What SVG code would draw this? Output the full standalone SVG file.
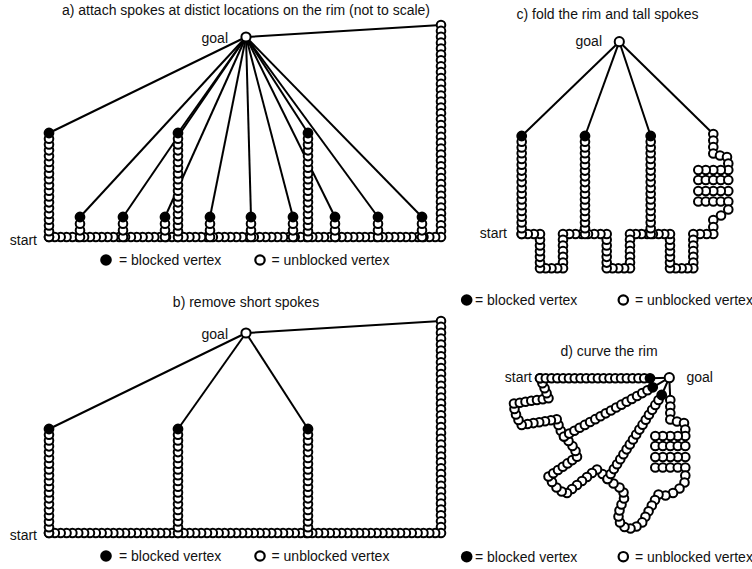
<svg xmlns="http://www.w3.org/2000/svg" width="752" height="569" viewBox="0 0 752 569">
  <style>
    text { font-family: "Liberation Sans", Arial, Helvetica, sans-serif; font-size: 14px; fill: #111; }
    .mid { text-anchor: middle; }
    .end { text-anchor: end; }
    .ch { fill: none; stroke: none; marker-start: url(#v); marker-mid: url(#v); marker-end: url(#v); }
    .sp { fill: none; stroke: none; marker-start: url(#v); marker-mid: url(#v); marker-end: url(#k); }
    .ln { stroke: #000; stroke-width: 2; fill: none; }
    .node { fill: #fff; stroke: #000; stroke-width: 2; }
    .lk { fill: #000; }
    .lw { fill: #fff; stroke: #000; stroke-width: 2.2; }
  </style>
  <defs>
    <!-- unblocked vertex -->
    <marker id="v" markerUnits="userSpaceOnUse" markerWidth="12" markerHeight="12" viewBox="-6 -6 12 12" refX="0" refY="0" overflow="visible">
      <circle r="4.3" fill="#fff" stroke="#000" stroke-width="2"/>
    </marker>
    <!-- blocked vertex -->
    <marker id="k" markerUnits="userSpaceOnUse" markerWidth="12" markerHeight="12" viewBox="-6 -6 12 12" refX="0" refY="0" overflow="visible">
      <circle r="4.6" fill="#000" stroke="#000" stroke-width="1.6"/>
    </marker>
    <!-- straight rim with the tall right spoke, drawn from the top of the spoke down to start -->
    <path id="rimAB" class="ch" d="M441 25v5.889v5.889v5.889v5.889v5.889v5.889v5.889v5.889v5.889v5.889v5.889v5.889v5.889v5.889v5.889v5.889v5.889v5.889v5.889v5.889v5.889v5.889v5.889v5.889v5.889v5.889v5.889v5.889v5.889v5.889v5.889v5.889v5.889v5.889v5.889v5.889h-5.851h-5.851h-5.851h-5.851h-5.851h-5.851h-5.851h-5.851h-5.851h-5.851h-5.851h-5.851h-5.851h-5.851h-5.851h-5.851h-5.851h-5.851h-5.851h-5.851h-5.851h-5.851h-5.851h-5.851h-5.851h-5.851h-5.851h-5.851h-5.851h-5.851h-5.851h-5.851h-5.851h-5.851h-5.851h-5.851h-5.851h-5.851h-5.851h-5.851h-5.851h-5.851h-5.851h-5.851h-5.851h-5.851h-5.851h-5.851h-5.851h-5.851h-5.851h-5.851h-5.851h-5.851h-5.851h-5.851h-5.851h-5.851h-5.851h-5.851h-5.851h-5.851h-5.851h-5.851h-5.851h-5.851h-5.851"/>
    <path id="tall" class="sp" d="M0 0v-5.778v-5.778v-5.778v-5.778v-5.778v-5.778v-5.778v-5.778v-5.778v-5.778v-5.778v-5.778v-5.778v-5.778v-5.778v-5.778v-5.778v-5.778"/>
    <path id="short" class="sp" d="M0 0v-6.667v-6.667v-6.667"/>
    <path id="colC" class="sp" d="M0 0v-5.765v-5.765v-5.765v-5.765v-5.765v-5.765v-5.765v-5.765v-5.765v-5.765v-5.765v-5.765v-5.765v-5.765v-5.765v-5.765v-5.765"/>
    <!-- folded unblocked spoke, from its top downwards -->
    <path id="fold" class="ch" d="M0 0v6.5v6.5v6.5l6.7 2l7 1.5l1.3 6.5v6.5h-7.5h-7.5h-7.5h-7.5v10h7.5h7.5h7.5h7.5v11h-7.5h-7.5h-7.5h-7.5v10.5h7.5h7.5h7.5h7.5v8"/>
  </defs>

  <!-- a) -->
  <g id="panel-a">
    <text class="mid" x="246" y="15">a) attach spokes at distict locations on the rim (not to scale)</text>
    <g id="a-connectors" class="ln">
      <line x1="246" y1="37" x2="441" y2="25"/>
      <line x1="246" y1="37" x2="49" y2="133"/>
      <line x1="246" y1="37" x2="80" y2="217"/>
      <line x1="246" y1="37" x2="123" y2="217"/>
      <line x1="246" y1="37" x2="165" y2="217"/>
      <line x1="246" y1="37" x2="178" y2="133"/>
      <line x1="246" y1="37" x2="210" y2="217"/>
      <line x1="246" y1="37" x2="251" y2="217"/>
      <line x1="246" y1="37" x2="293" y2="217"/>
      <line x1="246" y1="37" x2="308" y2="133"/>
      <line x1="246" y1="37" x2="335" y2="217"/>
      <line x1="246" y1="37" x2="378" y2="217"/>
      <line x1="246" y1="37" x2="422" y2="217"/>
    </g>
    <g id="a-rim"><use href="#rimAB"/></g>
    <g id="a-spokes">
      <use href="#tall" x="49" y="237"/>
      <use href="#short" x="80" y="237"/>
      <use href="#short" x="123" y="237"/>
      <use href="#short" x="165" y="237"/>
      <use href="#tall" x="178" y="237"/>
      <use href="#short" x="210" y="237"/>
      <use href="#short" x="251" y="237"/>
      <use href="#short" x="293" y="237"/>
      <use href="#tall" x="308" y="237"/>
      <use href="#short" x="335" y="237"/>
      <use href="#short" x="378" y="237"/>
      <use href="#short" x="422" y="237"/>
    </g>
    <g id="a-goal"><circle class="node" cx="246" cy="37" r="4.6"/><text class="end" x="228" y="43">goal</text></g>
    <g id="a-start"><text class="end" x="37" y="244.5">start</text></g>
    <g id="a-legend">
      <circle class="lk" cx="106" cy="260" r="5.8"/><text x="119" y="265">= blocked vertex</text>
      <circle class="lw" cx="260" cy="260" r="4.7"/><text x="271.5" y="265">= unblocked vertex</text>
    </g>
  </g>

  <!-- b) -->
  <g id="panel-b">
    <text class="mid" x="246" y="307">b) remove short spokes</text>
    <g id="b-connectors" class="ln">
      <line x1="246" y1="333" x2="441" y2="321"/>
      <line x1="246" y1="333" x2="49" y2="429"/>
      <line x1="246" y1="333" x2="178" y2="429"/>
      <line x1="246" y1="333" x2="308" y2="429"/>
    </g>
    <g id="b-rim"><use href="#rimAB" y="296"/></g>
    <g id="b-spokes">
      <use href="#tall" x="49" y="533"/>
      <use href="#tall" x="178" y="533"/>
      <use href="#tall" x="308" y="533"/>
    </g>
    <g id="b-goal"><circle class="node" cx="246" cy="333" r="4.6"/><text class="end" x="228" y="339">goal</text></g>
    <g id="b-start"><text class="end" x="37" y="539.5">start</text></g>
    <g id="b-legend">
      <circle class="lk" cx="106" cy="556" r="5.8"/><text x="119" y="561">= blocked vertex</text>
      <circle class="lw" cx="260" cy="556" r="4.7"/><text x="271.5" y="561">= unblocked vertex</text>
    </g>
  </g>

  <!-- c) -->
  <g id="panel-c">
    <text class="mid" x="607.5" y="19">c) fold the rim and tall spokes</text>
    <g id="c-connectors" class="ln">
      <line x1="619.3" y1="41.7" x2="521.7" y2="136"/>
      <line x1="619.3" y1="41.7" x2="585" y2="136"/>
      <line x1="619.3" y1="41.7" x2="650.7" y2="136"/>
      <line x1="619.3" y1="41.7" x2="713.3" y2="134"/>
    </g>
    <g id="c-fold"><use href="#fold" x="713.3" y="134"/></g>
    <g id="c-rim">
      <path class="ch" d="M721 215.5L713.3 220v7v7h-6.667h-6.667h-6.667v5.717v5.717v5.717v5.717v5.717v5.717h-5.825h-5.825h-5.825h-5.825v-5.717v-5.717v-5.717v-5.717v-5.717v-5.717h-5.714h-5.714h-5.714h-5.714h-5.714h-5.714h-5.714v5.717v5.717v5.717v5.717v5.717v5.717h-5.825h-5.825h-5.825h-5.825v-5.717v-5.717v-5.717v-5.717v-5.717v-5.717h-6.243h-6.243h-6.243h-6.243h-6.243h-6.243h-6.243v5.717v5.717v5.717v5.717v5.717v5.717h-5.75h-5.75h-5.75h-5.75v-5.717v-5.717v-5.717v-5.717v-5.717v-5.717h-6.1h-6.1h-6.1"/>
    </g>
    <g id="c-spokes">
      <use href="#colC" x="521.7" y="234"/>
      <use href="#colC" x="585" y="234"/>
      <use href="#colC" x="650.7" y="234"/>
    </g>
    <g id="c-goal"><circle class="node" cx="619.3" cy="41.7" r="4.6"/><text class="end" x="602" y="46">goal</text></g>
    <g id="c-start"><text class="end" x="507" y="238">start</text></g>
    <g id="c-legend">
      <circle class="lk" cx="466.7" cy="300" r="5.8"/><text x="475" y="305">= blocked vertex</text>
      <circle class="lw" cx="623.3" cy="300" r="4.7"/><text x="635" y="305">= unblocked vertex</text>
    </g>
  </g>

  <!-- d) -->
  <g id="panel-d">
    <text class="mid" x="609" y="356">d) curve the rim</text>
    <g id="d-connectors" class="ln">
      <line x1="669.3" y1="377.7" x2="650" y2="378.3"/>
      <line x1="669.3" y1="377.7" x2="652.7" y2="387.3"/>
      <line x1="669.3" y1="377.7" x2="661.7" y2="395"/>
      <line x1="669.3" y1="377.7" x2="670.3" y2="400"/>
    </g>
    <g id="d-fold"><use href="#fold" x="670.3" y="400"/></g>
    <g id="d-rim">
      <path class="ch" d="M684.5 482.5L679.5 488.5L673 493L665.5 495.5L658.5 494.5L655 500L651.8 505.6L648.6 511.2L645.4 516.8L642.2 522.4L636.5 526.5L630.5 528.5L624.5 527L620 522.5L618.5 516.5L619.5 510.5L621.5 504.5L624 498.5L623.5 492.5L619.5 487.5L613.5 483.5L607.5 479L602.5 474L597 469.5L592 473L587 477L582 481L577 485L572 489L567 493L561.7 491.5L556.5 487.5L552 482L548.5 476.5L553.3 473.2L558 470L562.8 466.7L567.5 463.4L572.3 460.1L577 456.8L575.5 451L572.5 446L568.5 441L564 436.5L560.8 430.8L558.5 425L556.7 419.3L550.9 420.3L545 421.2L539.2 422.2L533.4 423.1L527.5 424L521.7 425L518.5 420L516 414.5L514.5 409L514 403.5L519.8 402.7L525.5 401.7L531.3 400.8L537 400L542.8 399.2L548.5 398.3L546.6 393.3L544.6 388.3L542.4 383.3L540 378.3"/>
    </g>
    <g id="d-spokes">
      <path class="sp" d="M540 378.3h5.789h5.789h5.789h5.789h5.789h5.789h5.789h5.789h5.789h5.789h5.789h5.789h5.789h5.789h5.789h5.789h5.789h5.789h5.789"/>
      <path class="sp" d="M564 436.5l5.218 -2.894l5.218 -2.894l5.218 -2.894l5.218 -2.894l5.218 -2.894l5.218 -2.894l5.218 -2.894l5.218 -2.894l5.218 -2.894l5.218 -2.894l5.218 -2.894l5.218 -2.894l5.218 -2.894l5.218 -2.894l5.218 -2.894l5.218 -2.894l5.218 -2.894"/>
      <path class="sp" d="M607.5 479l3.188 -4.941l3.188 -4.941l3.188 -4.941l3.188 -4.941l3.188 -4.941l3.188 -4.941l3.188 -4.941l3.188 -4.941l3.188 -4.941l3.188 -4.941l3.188 -4.941l3.188 -4.941l3.188 -4.941l3.188 -4.941l3.188 -4.941l3.188 -4.941l3.188 -4.941"/>
    </g>
    <g id="d-goal"><circle class="node" cx="669.3" cy="377.7" r="4.6"/><text x="686.5" y="382">goal</text></g>
    <g id="d-start"><text class="end" x="532" y="382">start</text></g>
    <g id="d-legend">
      <circle class="lk" cx="466.7" cy="556.7" r="5.8"/><text x="475" y="561.5">= blocked vertex</text>
      <circle class="lw" cx="623.3" cy="556.7" r="4.7"/><text x="635" y="561.5">= unblocked vertex</text>
    </g>
  </g>
</svg>
